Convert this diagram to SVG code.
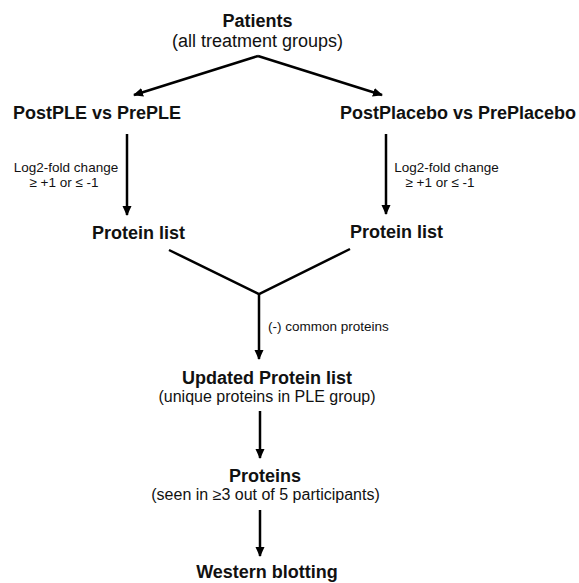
<svg xmlns="http://www.w3.org/2000/svg" width="579" height="583" viewBox="0 0 579 583">
<style>
.b{font-family:"Liberation Sans",Arial,sans-serif;font-weight:bold;font-size:18px;fill:#111}
.r{font-family:"Liberation Sans",Arial,sans-serif;font-size:18px;fill:#111}
.m{font-family:"Liberation Sans",Arial,sans-serif;font-size:16px;fill:#111}
.s{font-family:"Liberation Sans",Arial,sans-serif;font-size:13.5px;fill:#111}
.c{text-anchor:middle}
.ln{stroke:#000;stroke-width:2.5;fill:none}
</style>
<defs>
<marker id="ah" markerUnits="userSpaceOnUse" markerWidth="12" markerHeight="10" refX="9" refY="4.5" orient="auto">
<path d="M0,0 L10,4.5 L0,9 Z" fill="#000"/>
</marker>
</defs>
<rect width="579" height="583" fill="#fff"/>
<g id="connectors">
<line class="ln" x1="258" y1="56" x2="134" y2="95" marker-end="url(#ah)"/>
<line class="ln" x1="258" y1="56" x2="382" y2="95" marker-end="url(#ah)"/>
<line class="ln" x1="127" y1="134" x2="127" y2="215" marker-end="url(#ah)"/>
<line class="ln" x1="386" y1="134" x2="386" y2="214" marker-end="url(#ah)"/>
<polyline class="ln" points="169,250 259,294 350,249"/>
<line class="ln" x1="259" y1="294" x2="259" y2="359" marker-end="url(#ah)"/>
<line class="ln" x1="260" y1="411" x2="260" y2="458" marker-end="url(#ah)"/>
<line class="ln" x1="260" y1="510" x2="260" y2="556" marker-end="url(#ah)"/>
</g>
<g id="patients">
<text class="b c" x="257.5" y="27">Patients</text>
<text class="r c" x="257.5" y="47">(all treatment groups)</text>
</g>
<g id="postple">
<text class="b" x="13" y="119">PostPLE vs PrePLE</text>
</g>
<g id="postplacebo">
<text class="b" x="340" y="119">PostPlacebo vs PrePlacebo</text>
</g>
<g id="label-left">
<text class="s c" x="66" y="172">Log2-fold change</text>
<text class="s c" x="64" y="187">≥ +1 or ≤ -1</text>
</g>
<g id="label-right">
<text class="s c" x="446.5" y="172">Log2-fold change</text>
<text class="s c" x="440" y="187">≥ +1 or ≤ -1</text>
</g>
<g id="protein-list-left">
<text class="b" x="92" y="239">Protein list</text>
</g>
<g id="protein-list-right">
<text class="b" x="350" y="238">Protein list</text>
</g>
<g id="label-common">
<text class="s" x="268" y="331">(-) common proteins</text>
</g>
<g id="updated">
<text class="b c" x="267" y="384">Updated Protein list</text>
<text class="m c" x="267" y="402">(unique proteins in PLE group)</text>
</g>
<g id="proteins">
<text class="b c" x="265" y="482">Proteins</text>
<text class="m c" x="265.5" y="500">(seen in ≥3 out of 5 participants)</text>
</g>
<g id="western">
<text class="b c" x="267" y="578">Western blotting</text>
</g>
</svg>
